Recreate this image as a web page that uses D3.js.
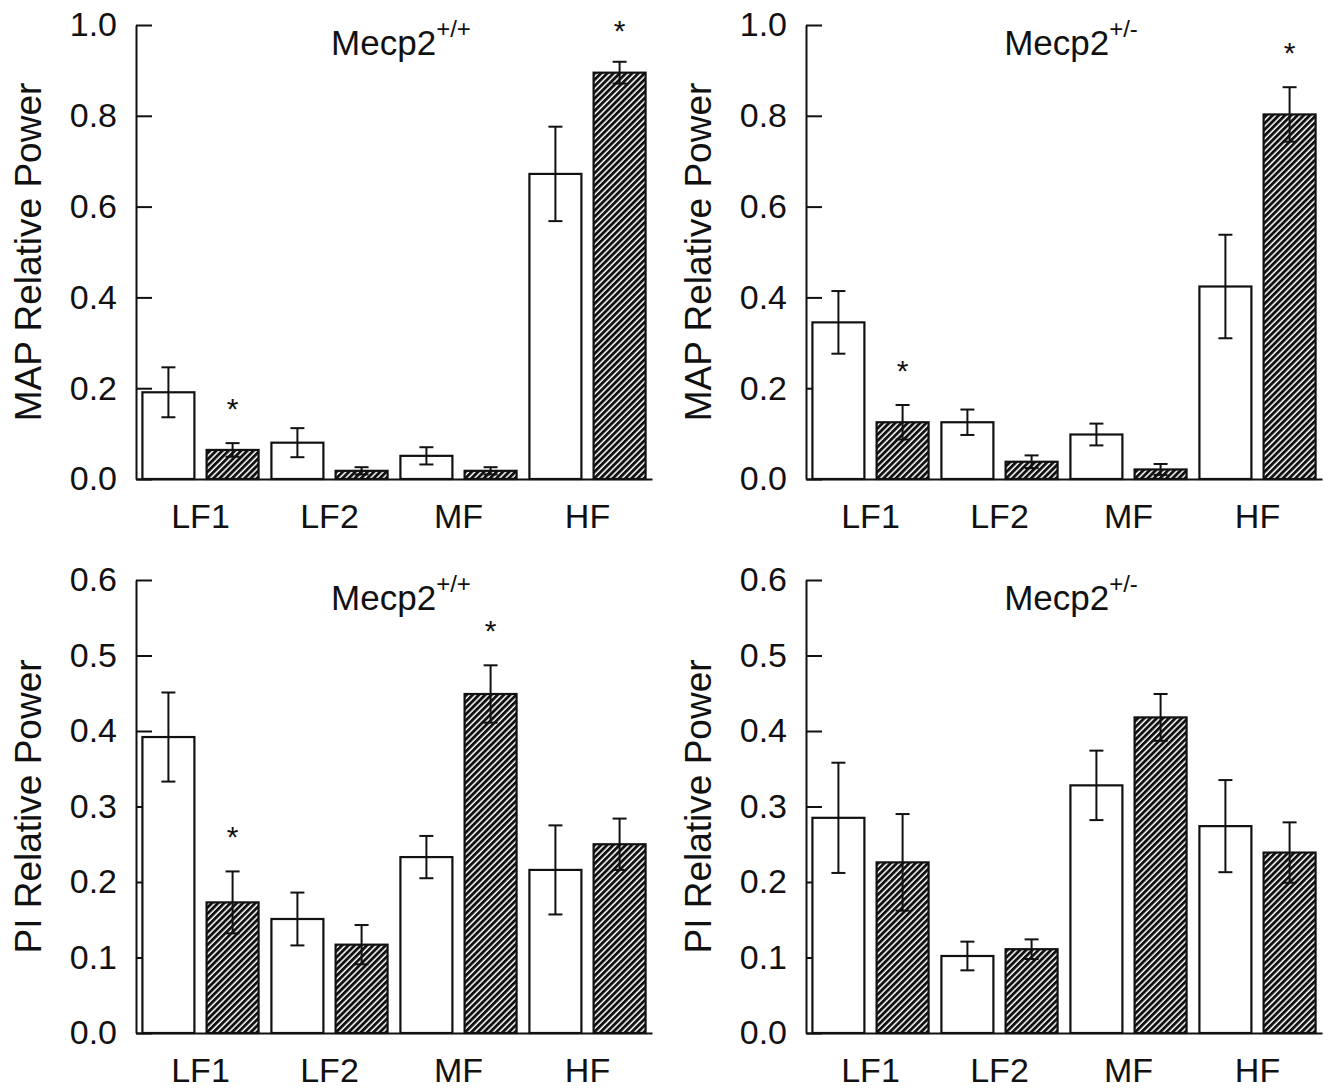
<!DOCTYPE html>
<html><head><meta charset="utf-8">
<script src="https://cdn.jsdelivr.net/npm/d3@7"></script>
<style>
body{margin:0;background:#fff}
svg{display:block}
text{font-family:"Liberation Sans",Arial,Helvetica,sans-serif;fill:#111}
</style>
</head><body>
<svg id="chart" width="1334" height="1088"></svg>
<script>
// ---------- data ----------
const categories = ["LF1", "LF2", "MF", "HF"];
const seriesKeys = ["open", "hatch"];
const mapTicks = [0, 0.2, 0.4, 0.6, 0.8, 1.0];
const piTicks = [0, 0.1, 0.2, 0.3, 0.4, 0.5, 0.6];

// MAP relative power, Mecp2+/+
const mapWtOpen = [0.191, 0.080, 0.051, 0.672];
const mapWtOpenErr = [0.055, 0.032, 0.019, 0.104];
const mapWtHatch = [0.064, 0.018, 0.018, 0.895];
const mapWtHatchErr = [0.015, 0.008, 0.008, 0.024];
const mapWtStar = [true, false, false, true];

// MAP relative power, Mecp2+/-
const mapHetOpen = [0.345, 0.125, 0.098, 0.424];
const mapHetOpenErr = [0.069, 0.028, 0.024, 0.114];
const mapHetHatch = [0.125, 0.038, 0.021, 0.803];
const mapHetHatchErr = [0.038, 0.014, 0.012, 0.060];
const mapHetStar = [true, false, false, true];

// PI relative power, Mecp2+/+
const piWtOpen = [0.392, 0.151, 0.233, 0.216];
const piWtOpenErr = [0.059, 0.035, 0.028, 0.059];
const piWtHatch = [0.173, 0.117, 0.449, 0.250];
const piWtHatchErr = [0.041, 0.026, 0.038, 0.034];
const piWtStar = [true, false, true, false];

// PI relative power, Mecp2+/-
const piHetOpen = [0.285, 0.102, 0.328, 0.274];
const piHetOpenErr = [0.073, 0.019, 0.046, 0.061];
const piHetHatch = [0.226, 0.111, 0.418, 0.239];
const piHetHatchErr = [0.064, 0.013, 0.031, 0.040];
const piHetStar = [false, false, false, false];

// ---------- panels ----------
const panels = [
  {sup: "+/+", label: "MAP Relative Power", ticks: mapTicks, ymax: 1.0, ax: 136, top: 25, bottom: 479,
   open: mapWtOpen, openErr: mapWtOpenErr, hatch: mapWtHatch, hatchErr: mapWtHatchErr, star: mapWtStar},
  {sup: "+/-", label: "MAP Relative Power", ticks: mapTicks, ymax: 1.0, ax: 806, top: 25, bottom: 479,
   open: mapHetOpen, openErr: mapHetOpenErr, hatch: mapHetHatch, hatchErr: mapHetHatchErr, star: mapHetStar},
  {sup: "+/+", label: "PI Relative Power", ticks: piTicks, ymax: 0.6, ax: 136, top: 580, bottom: 1033,
   open: piWtOpen, openErr: piWtOpenErr, hatch: piWtHatch, hatchErr: piWtHatchErr, star: piWtStar},
  {sup: "+/-", label: "PI Relative Power", ticks: piTicks, ymax: 0.6, ax: 806, top: 580, bottom: 1033,
   open: piHetOpen, openErr: piHetOpenErr, hatch: piHetHatch, hatchErr: piHetHatchErr, star: piHetStar}
];

const svg = d3.select("#chart");
const defs = svg.append("defs");
const pat = defs.append("pattern").attr("id", "hatch")
  .attr("patternUnits", "userSpaceOnUse")
  .attr("width", 4.4).attr("height", 4.4)
  .attr("patternTransform", "rotate(45)");
pat.append("rect").attr("width", 4.4).attr("height", 4.4).attr("fill", "#fff");
pat.append("rect").attr("width", 2.9).attr("height", 4.4).attr("fill", "#111");

const PW = 516;
const FONT = '"Liberation Sans",Arial,sans-serif';

panels.forEach(p => {
  const g = svg.append("g");
  const y = d3.scaleLinear().domain([0, p.ymax]).range([p.bottom, p.top]);
  const x0 = d3.scaleBand().domain(categories).range([p.ax, p.ax + PW]).padding(0);
  const x1 = d3.scaleBand().domain(seriesKeys).range([0, x0.bandwidth()])
    .paddingInner(0.19).paddingOuter(0.1);

  // y axis
  const yAxis = d3.axisLeft(y).tickValues(p.ticks).tickFormat(d3.format(".1f"))
    .tickSize(-16).tickSizeOuter(0).tickPadding(19);
  const ya = g.append("g").attr("transform", `translate(${p.ax},0)`).call(yAxis);
  ya.selectAll("path,line").attr("stroke", "#111").attr("stroke-width", 2);
  ya.selectAll("text").attr("font-size", 34).attr("fill", "#111").style("font-family", FONT);

  // bars
  const rows = categories.map((c, i) => ({c, i}));
  const grp = g.selectAll("g.cat").data(rows).join("g")
    .attr("transform", d => `translate(${x0(d.c)},0)`);
  seriesKeys.forEach(k => {
    grp.append("rect")
      .attr("x", x1(k))
      .attr("y", d => y(p[k][d.i]))
      .attr("width", x1.bandwidth())
      .attr("height", d => p.bottom - y(p[k][d.i]))
      .attr("fill", k === "open" ? "#fff" : "url(#hatch)")
      .attr("stroke", "#111").attr("stroke-width", 2.2);
  });
  // error bars
  seriesKeys.forEach(k => {
    const ek = k + "Err";
    const cx = x1(k) + x1.bandwidth() / 2;
    grp.append("line").attr("x1", cx).attr("x2", cx)
      .attr("y1", d => y(p[k][d.i] - p[ek][d.i]))
      .attr("y2", d => y(p[k][d.i] + p[ek][d.i]))
      .attr("stroke", "#111").attr("stroke-width", 2);
    [1, -1].forEach(s => {
      grp.append("line").attr("x1", cx - 7).attr("x2", cx + 7)
        .attr("y1", d => y(p[k][d.i] + s * p[ek][d.i]))
        .attr("y2", d => y(p[k][d.i] + s * p[ek][d.i]))
        .attr("stroke", "#111").attr("stroke-width", 2);
    });
  });
  // stars
  grp.filter(d => p.star[d.i]).append("text")
    .attr("x", x1("hatch") + x1.bandwidth() / 2)
    .attr("y", d => Math.max(y(p.hatch[d.i] + p.hatchErr[d.i]) - 24, p.top + 16))
    .attr("text-anchor", "middle").attr("font-size", 30).text("*");

  // x axis
  const xAxis = d3.axisBottom(x0).tickSize(0).tickSizeOuter(0).tickPadding(25);
  const xa = g.append("g").attr("transform", `translate(0,${p.bottom})`).call(xAxis);
  xa.select("path").attr("stroke", "#111").attr("stroke-width", 2);
  xa.selectAll("text").attr("font-size", 34).attr("fill", "#111").style("font-family", FONT);

  // title
  const t = g.append("text").attr("x", p.ax + 265).attr("y", p.top + 30)
    .attr("text-anchor", "middle").attr("font-size", 35);
  t.append("tspan").text("Mecp2");
  t.append("tspan").attr("font-size", 24).attr("dy", -18).text(p.sup);

  // y label
  g.append("text")
    .attr("transform", `translate(${p.ax - 108},${(p.top + p.bottom) / 2}) rotate(-90)`)
    .attr("text-anchor", "middle").attr("dy", "0.36em")
    .attr("font-size", 37).text(p.label);
});
</script>
</body></html>
